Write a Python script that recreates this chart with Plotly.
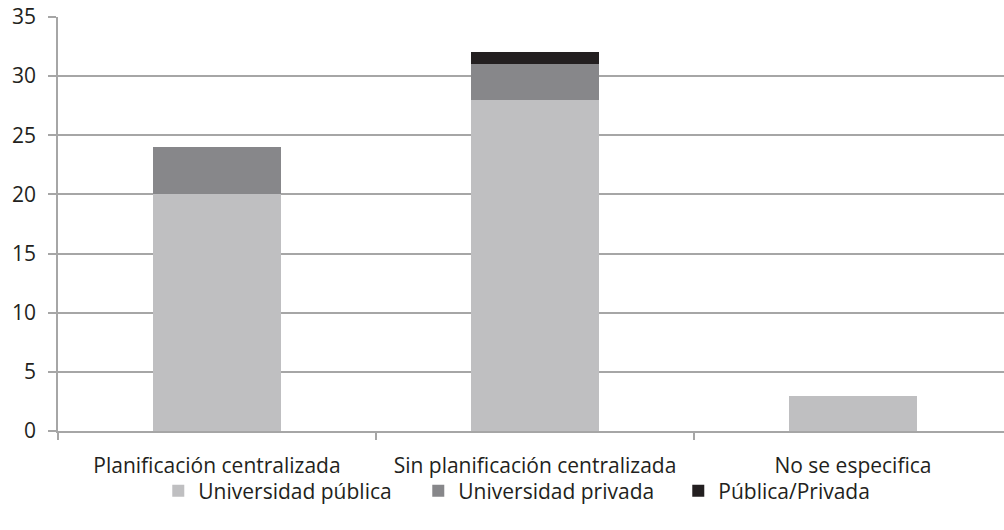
import plotly.graph_objects as go

categories = ["Planificación centralizada", "Sin planificación centralizada", "No se especifica"]
publica = [20, 28, 3]
privada = [4, 3, 0]
pub_priv = [0, 1, 0]
series_names = ["Universidad pública", "Universidad privada", "Pública/Privada"]
colors = ["#bfbfc1", "#87878a", "#231f20"]

fig = go.Figure()
for name, vals, col in zip(series_names, [publica, privada, pub_priv], colors):
    fig.add_trace(go.Bar(x=categories, y=vals, name=name, marker=dict(color=col, line=dict(width=0))))

font = "Open Sans, Lato, sans-serif"
fig.update_layout(
    barmode="stack",
    bargap=0.6,
    width=1004, height=530,
    margin=dict(l=58, r=0, t=17, b=99),
    paper_bgcolor="white", plot_bgcolor="white",
    font=dict(family=font, size=21, color="#231f20"),
    showlegend=True,
    legend=dict(orientation="h", x=0.106, xanchor="left", y=-0.145, yanchor="middle",
                font=dict(size=21), itemwidth=30, traceorder="normal",
                entrywidth=215, entrywidthmode="pixels", bgcolor="rgba(0,0,0,0)"),
    xaxis=dict(range=[-0.5, 2.475], showline=True, linecolor="#a6a6a6", linewidth=1.5,
               ticks="outside", tickson="boundaries", ticklen=7, tickcolor="#a6a6a6",
               tickwidth=1.5, showgrid=False, tickfont=dict(size=21), automargin=False,
               ticklabelstandoff=15),
    yaxis=dict(range=[0, 35], dtick=5, showline=True, linecolor="#a6a6a6", linewidth=1.5,
               ticks="outside", ticklen=8, tickcolor="#a6a6a6", tickwidth=1.5,
               showgrid=True, gridcolor="#a6a6a6", gridwidth=1.5, zeroline=False,
               tickfont=dict(size=21), automargin=False, ticklabelstandoff=8),
)
fig.write_html("out.html", config={"displayModeBar": False},
               post_script="document.body.style.margin='0px';")
